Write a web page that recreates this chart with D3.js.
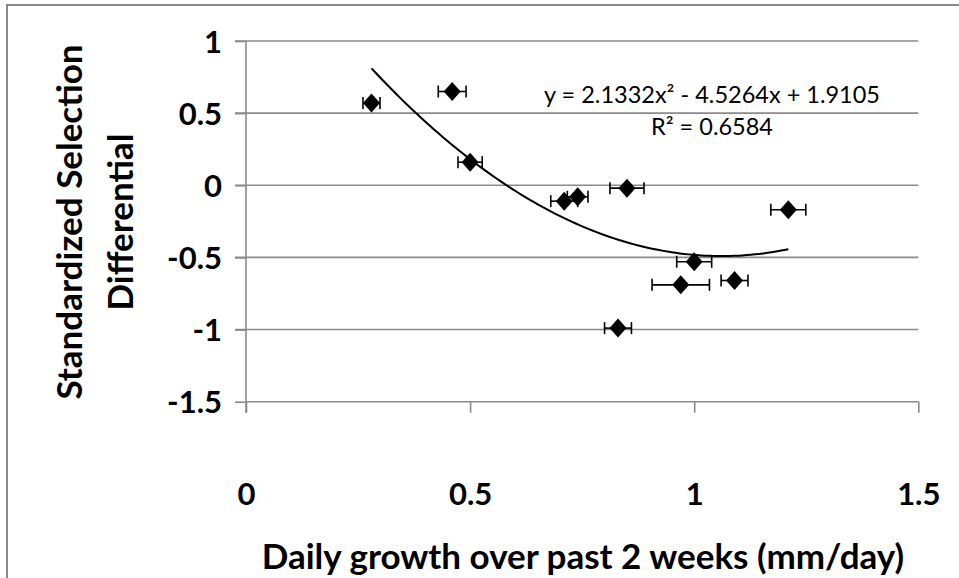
<!DOCTYPE html>
<html>
<head>
<meta charset="utf-8">
<script src="https://cdn.jsdelivr.net/npm/d3@7"></script>
<style>
  html, body { margin: 0; padding: 0; background: #fff; }
  svg { display: block; }
</style>
</head>
<body>
<svg id="chart" width="959" height="578"></svg>
<script>
// ---- data ----
const growth = [0.28, 0.46, 0.50, 0.71, 0.74, 0.85, 1.21, 1.00, 0.97, 1.09, 0.83];
const selection = [0.57, 0.65, 0.16, -0.11, -0.08, -0.02, -0.17, -0.53, -0.69, -0.66, -0.99];
const growthErr = [0.019, 0.031, 0.027, 0.030, 0.023, 0.038, 0.039, 0.039, 0.064, 0.030, 0.030];
const xTicks = [0, 0.5, 1, 1.5];
const yTicks = [-1.5, -1, -0.5, 0, 0.5, 1];
const trendCoef = [2.1332, -4.5264, 1.9105]; // a, b, c of displayed polynomial trendline
const eqLabel = "y = 2.1332x\u00B2 - 4.5264x + 1.9105";
const r2Label = "R\u00B2 = 0.6584";
const xTitle = "Daily growth over past 2 weeks (mm/day)";
const yTitleLines = ["Standardized Selection", "Differential"];

// ---- layout ----
const svg = d3.select("#chart");
const FONT = "Lato, 'Open Sans', sans-serif";
const gridColor = "#8a8a8a";
const fmt = d => String(d); // plain hyphen-minus like the original

const x = d3.scaleLinear().domain([0, 1.5]).range([246, 918.3]);
const y = d3.scaleLinear().domain([-1.5, 1]).range([401.7, 41]);

// outer frame
svg.append("rect")
  .attr("x", 7).attr("y", 5).attr("width", 970).attr("height", 600)
  .attr("fill", "none").attr("stroke", "#888").attr("stroke-width", 2);

// horizontal gridlines (with tick stubs to the left)
svg.append("g").selectAll("line")
  .data(yTicks.filter(d => d !== -1.5))
  .join("line")
  .attr("x1", 235).attr("x2", x(1.5))
  .attr("y1", d => y(d)).attr("y2", d => y(d))
  .attr("stroke", gridColor).attr("stroke-width", 1.6);

// x axis
const xAxis = d3.axisBottom(x).tickValues(xTicks).tickSize(11).tickFormat(fmt);
const gx = svg.append("g").attr("transform", `translate(0,${y(-1.5)})`).call(xAxis);
gx.select(".domain").attr("stroke", gridColor).attr("stroke-width", 1.6).attr("d", `M${x(0)},0H${x(1.5)}`);
gx.selectAll(".tick line").attr("stroke", gridColor).attr("stroke-width", 1.6);
gx.selectAll(".tick text")
  .attr("y", 0).attr("dy", 0)
  .attr("transform", "translate(0,103)")
  .attr("font-family", FONT).attr("font-weight", "bold").attr("font-size", 31)
  .attr("fill", "#000");

// y axis
const yAxis = d3.axisLeft(y).tickValues(yTicks).tickSize(11).tickFormat(fmt);
const gy = svg.append("g").attr("transform", `translate(${x(0)},0)`).call(yAxis);
gy.select(".domain").attr("stroke", gridColor).attr("stroke-width", 1.6).attr("d", `M0,${y(1)}V${y(-1.5) + 11}`);
gy.selectAll(".tick line").attr("stroke", gridColor).attr("stroke-width", 1.6);
gy.selectAll(".tick text")
  .attr("x", -24).attr("dy", "0.36em")
  .attr("font-family", FONT).attr("font-weight", "bold").attr("font-size", 31)
  .attr("fill", "#000");
svg.selectAll(".tick text").attr("stroke", "none");

// axis titles
svg.append("text")
  .attr("x", 583).attr("y", 569)
  .attr("text-anchor", "middle")
  .attr("font-family", FONT).attr("font-weight", "bold").attr("font-size", 35)
  .text(xTitle);

const yt = svg.append("text")
  .attr("transform", "translate(0,222) rotate(-90)")
  .attr("text-anchor", "middle")
  .attr("font-family", FONT).attr("font-weight", "bold").attr("font-size", 35);
yt.selectAll("tspan").data(yTitleLines).join("tspan")
  .attr("x", 0).attr("y", (d, i) => 82 + i * 51)
  .text(d => d);

// trendline
const [a, b, c] = trendCoef;
const xMin = d3.min(growth), xMax = d3.max(growth);
const trendPts = d3.range(0, 101).map(i => {
  const xv = xMin + (xMax - xMin) * i / 100;
  return [xv, a * xv * xv + b * xv + c];
});
svg.append("path")
  .datum(trendPts)
  .attr("fill", "none").attr("stroke", "#000").attr("stroke-width", 2)
  .attr("d", d3.line().x(d => x(d[0])).y(d => y(d[1])).curve(d3.curveLinear));

// error bars
const pts = growth.map((g, i) => ({ gx: g, sy: selection[i], e: growthErr[i] }));
const eb = svg.append("g").attr("stroke", "#000").attr("stroke-width", 1.6);
pts.forEach(p => {
  const cy = y(p.sy);
  eb.append("line").attr("x1", x(p.gx - p.e)).attr("x2", x(p.gx + p.e)).attr("y1", cy).attr("y2", cy);
  eb.append("line").attr("x1", x(p.gx - p.e)).attr("x2", x(p.gx - p.e)).attr("y1", cy - 6).attr("y2", cy + 6);
  eb.append("line").attr("x1", x(p.gx + p.e)).attr("x2", x(p.gx + p.e)).attr("y1", cy - 6).attr("y2", cy + 6);
});

// diamond markers
svg.append("g").selectAll("path")
  .data(pts)
  .join("path")
  .attr("transform", d => `translate(${x(d.gx)},${y(d.sy)})`)
  .attr("d", "M0,-9.5L8.5,0L0,9.5L-8.5,0Z")
  .attr("fill", "#000");

// equation labels
svg.append("text")
  .attr("x", 712).attr("y", 103)
  .attr("text-anchor", "middle")
  .attr("font-family", FONT).attr("font-size", 23.5)
  .text(eqLabel);
svg.append("text")
  .attr("x", 712).attr("y", 135)
  .attr("text-anchor", "middle")
  .attr("font-family", FONT).attr("font-size", 23.5)
  .text(r2Label);
</script>
</body>
</html>
